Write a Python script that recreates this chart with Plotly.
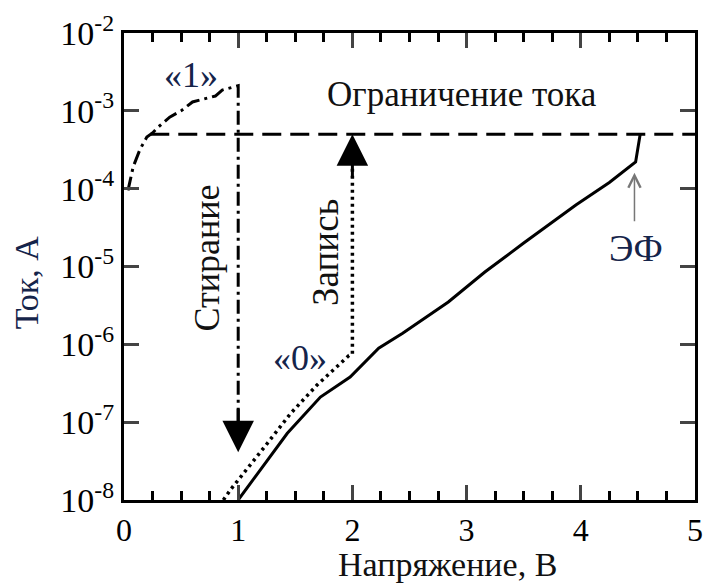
import math
import plotly.graph_objects as go

# Voltage ticks and current decades
x_ticks = [0, 1, 2, 3, 4, 5]
y_tick_vals = [1e-8, 1e-7, 1e-6, 1e-5, 1e-4, 1e-3, 1e-2]
y_tick_text = ["10<sup>-8</sup>", "10<sup>-7</sup>", "10<sup>-6</sup>", "10<sup>-5</sup>",
               "10<sup>-4</sup>", "10<sup>-3</sup>", "10<sup>-2</sup>"]

# Erase sweep: state "1" (low resistance) then drop at 1 V
erase_v = [0.035, 0.08, 0.14, 0.2, 0.25, 0.3, 0.4, 0.5, 0.6, 0.74, 0.8, 0.86, 0.95, 1.0, 1.0]
erase_i = [9.5e-5, 1.9e-4, 3.2e-4, 4.6e-4, 5.2e-4, 6.2e-4, 8.3e-4, 1.0e-3, 1.3e-3, 1.45e-3,
           1.55e-3, 1.85e-3, 2.0e-3, 2.1e-3, 6e-8]

# Current compliance level
limit_v = [0.23, 5.0]
limit_i = [5e-4, 5e-4]

# Write sweep: state "0" then jump at 2 V
write_v = [0.87, 0.94, 1.23, 1.46, 1.69, 1.97, 2.0, 2.0]
write_i = [1e-8, 1.4e-8, 4.8e-8, 1.3e-7, 3.0e-7, 7.2e-7, 7.5e-7, 4e-4]

# Forming sweep (ЭФ)
form_v = [1.0, 1.43, 1.72, 1.98, 2.23, 2.44, 2.84, 3.16, 3.5, 3.96, 4.25, 4.48, 4.52]
form_i = [1e-8, 7.2e-8, 2.1e-7, 3.8e-7, 8.9e-7, 1.39e-6, 3.5e-6, 8.5e-6, 2.0e-5, 6.2e-5,
          1.2e-4, 2.2e-4, 5e-4]

# Arrow tips
erase_tip = (1.0, 4.1e-8)
write_tip = (2.0, 5e-4)
ef_tip = (4.47, 1.6e-4)

FONT = "Times New Roman, Liberation Serif, DejaVu Serif, serif"
NAVY = "#15244a"
INK = "#111111"


def lg(v):
    # annotations on a log axis are placed in log10 units
    return math.log10(v)


fig = go.Figure()
fig.add_trace(go.Scatter(x=erase_v, y=erase_i, mode="lines",
                         line=dict(color="black", width=3, dash="14px,5px,3px,5px")))
fig.add_trace(go.Scatter(x=limit_v, y=limit_i, mode="lines",
                         line=dict(color="black", width=3, dash="19px,9px")))
fig.add_trace(go.Scatter(x=write_v, y=write_i, mode="lines",
                         line=dict(color="black", width=3.5, dash="3px,4px")))
fig.add_trace(go.Scatter(x=form_v, y=form_i, mode="lines",
                         line=dict(color="black", width=3)))

arrow_common = dict(text="", showarrow=True, axref="pixel", ayref="pixel", ax=0)
annotations = [
    # filled arrowheads on the erase/write transitions
    dict(x=erase_tip[0], y=lg(erase_tip[1]), ay=-45, arrowhead=2, arrowwidth=3,
         arrowsize=2.1, arrowcolor="black", **arrow_common),
    dict(x=write_tip[0], y=lg(write_tip[1]), ay=45, arrowhead=2, arrowwidth=3,
         arrowsize=2.1, arrowcolor="black", **arrow_common),
    # thin pointer to the forming point
    dict(x=ef_tip[0], y=lg(ef_tip[1]), ay=50, arrowhead=5, arrowwidth=1.5,
         arrowsize=1.6, arrowcolor="#777777", **arrow_common),
    dict(x=0.59, y=lg(2.9e-3), text="«1»", showarrow=False,
         font=dict(family=FONT, size=36, color=NAVY)),
    dict(x=1.54, y=lg(6.6e-7), text="«0»", showarrow=False,
         font=dict(family=FONT, size=36, color=NAVY)),
    dict(x=2.96, y=lg(1.6e-3), text="Ограничение тока", showarrow=False,
         font=dict(family=FONT, size=35, color=INK)),
    dict(x=0.725, y=lg(1.3e-5), text="Стирание", textangle=-90, showarrow=False,
         font=dict(family=FONT, size=36, color=INK)),
    dict(x=1.77, y=lg(1.5e-5), text="Запись", textangle=-90, showarrow=False,
         font=dict(family=FONT, size=37, color=INK)),
    dict(x=4.48, y=lg(1.7e-5), text="ЭФ", showarrow=False,
         font=dict(family=FONT, size=37, color=NAVY)),
]
for a in annotations:
    a["xref"] = "x"
    a["yref"] = "y"
    a["xanchor"] = "center"
    a["yanchor"] = "middle"

# axis titles
annotations += [
    dict(xref="paper", yref="paper", x=(25 - 124) / 579, y=(500 - 282) / 467, text="Ток, А",
         textangle=-90, showarrow=False, xanchor="center", yanchor="middle",
         font=dict(family=FONT, size=34, color=NAVY)),
    dict(xref="paper", yref="paper", x=(452 - 124) / 579, y=(500 - 564) / 467,
         text="Напряжение, В", showarrow=False, xanchor="center", yanchor="middle",
         font=dict(family=FONT, size=34, color=INK)),
]

fig.update_layout(
    width=710, height=585,
    margin=dict(l=124, r=7, t=33, b=85),
    paper_bgcolor="white", plot_bgcolor="white",
    showlegend=False,
    font=dict(family=FONT, color="black"),
    annotations=annotations,
    xaxis=dict(range=[0, 5], tickvals=x_ticks, ticks="inside", ticklen=15, tickwidth=3,
               showline=True, linewidth=3, linecolor="black", mirror="allticks",
               showgrid=False, zeroline=False, tickfont=dict(size=32, family=FONT),
               minor=dict(dtick=0.25, ticks="inside", ticklen=9, tickwidth=2.5,
                          tickcolor="black", showgrid=False)),
    yaxis=dict(type="log", range=[-8, -2], tickvals=y_tick_vals, ticktext=y_tick_text,
               ticks="inside", ticklen=15, tickwidth=3, showline=True, linewidth=3,
               linecolor="black", mirror="allticks", showgrid=False, zeroline=False,
               tickfont=dict(size=34, family=FONT)),
)

fig.write_html("out.html")
